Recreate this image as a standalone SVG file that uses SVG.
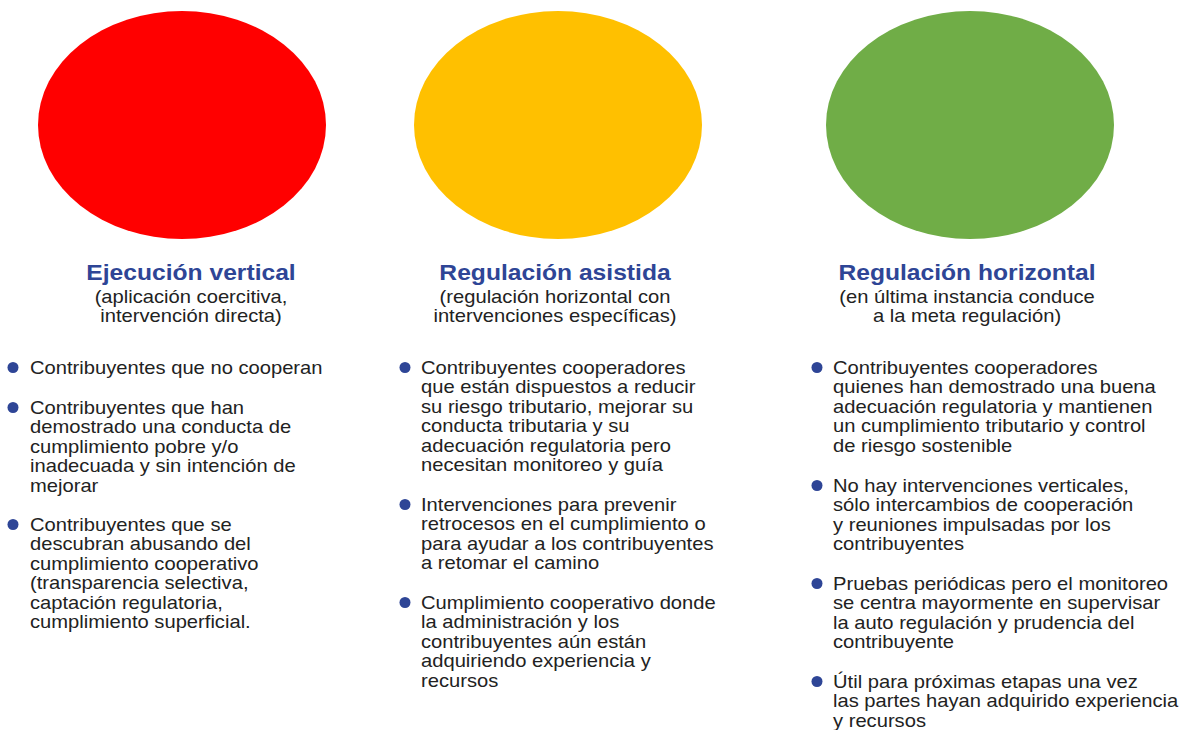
<svg xmlns="http://www.w3.org/2000/svg" width="1180" height="730" viewBox="0 0 1180 730">
<style>
.title{font-family:"Liberation Sans",Arial,sans-serif;font-weight:bold;font-size:22px;fill:#2E4596;text-anchor:middle}
.sub{font-family:"Liberation Sans",Arial,sans-serif;font-size:18px;fill:#222;text-anchor:middle}
.txt{font-family:"Liberation Sans",Arial,sans-serif;font-size:18px;fill:#222}
.dot{fill:#2E4596}
</style>
<rect width="1180" height="730" fill="#fff"/>
<g id="col1">
<ellipse cx="182" cy="125" rx="144" ry="114" fill="#FF0000"/>
<g transform="translate(191,0) scale(1.12,1)">
<text class="title" x="0" y="280">Ejecución vertical</text>
<text class="sub" x="0" y="303">(aplicación coercitiva,</text>
<text class="sub" x="0" y="322">intervención directa)</text>
</g>
<circle class="dot" cx="13" cy="367.5" r="5.5"/>
<circle class="dot" cx="13" cy="407.5" r="5.5"/>
<circle class="dot" cx="13" cy="524.5" r="5.5"/>
<g transform="translate(30,0) scale(1.12,1)">
<text class="txt" x="0" y="374">Contribuyentes que no cooperan</text>
<text class="txt" x="0" y="414">Contribuyentes que han<tspan x="0" dy="19.4">demostrado una conducta de</tspan><tspan x="0" dy="19.4">cumplimiento pobre y/o</tspan><tspan x="0" dy="19.4">inadecuada y sin intención de</tspan><tspan x="0" dy="19.4">mejorar</tspan></text>
<text class="txt" x="0" y="531">Contribuyentes que se<tspan x="0" dy="19.4">descubran abusando del</tspan><tspan x="0" dy="19.4">cumplimiento cooperativo</tspan><tspan x="0" dy="19.4">(transparencia selectiva,</tspan><tspan x="0" dy="19.4">captación regulatoria,</tspan><tspan x="0" dy="19.4">cumplimiento superficial.</tspan></text>
</g>
</g>
<g id="col2">
<ellipse cx="558" cy="125" rx="144" ry="114" fill="#FFC000"/>
<g transform="translate(555,0) scale(1.12,1)">
<text class="title" x="0" y="280">Regulación asistida</text>
<text class="sub" x="0" y="303">(regulación horizontal con</text>
<text class="sub" x="0" y="322">intervenciones específicas)</text>
</g>
<circle class="dot" cx="405" cy="367.5" r="5.5"/>
<circle class="dot" cx="405" cy="504.5" r="5.5"/>
<circle class="dot" cx="405" cy="602.5" r="5.5"/>
<g transform="translate(421,0) scale(1.12,1)">
<text class="txt" x="0" y="374">Contribuyentes cooperadores<tspan x="0" dy="19.4">que están dispuestos a reducir</tspan><tspan x="0" dy="19.4">su riesgo tributario, mejorar su</tspan><tspan x="0" dy="19.4">conducta tributaria y su</tspan><tspan x="0" dy="19.4">adecuación regulatoria pero</tspan><tspan x="0" dy="19.4">necesitan monitoreo y guía</tspan></text>
<text class="txt" x="0" y="511">Intervenciones para prevenir<tspan x="0" dy="19.4">retrocesos en el cumplimiento o</tspan><tspan x="0" dy="19.4">para ayudar a los contribuyentes</tspan><tspan x="0" dy="19.4">a retomar el camino</tspan></text>
<text class="txt" x="0" y="609">Cumplimiento cooperativo donde<tspan x="0" dy="19.4">la administración y los</tspan><tspan x="0" dy="19.4">contribuyentes aún están</tspan><tspan x="0" dy="19.4">adquiriendo experiencia y</tspan><tspan x="0" dy="19.4">recursos</tspan></text>
</g>
</g>
<g id="col3">
<ellipse cx="970" cy="125" rx="144" ry="114" fill="#70AD47"/>
<g transform="translate(967,0) scale(1.12,1)">
<text class="title" x="0" y="280">Regulación horizontal</text>
<text class="sub" x="0" y="303">(en última instancia conduce</text>
<text class="sub" x="0" y="322">a la meta regulación)</text>
</g>
<circle class="dot" cx="817" cy="367.5" r="5.5"/>
<circle class="dot" cx="817" cy="485.5" r="5.5"/>
<circle class="dot" cx="817" cy="583.5" r="5.5"/>
<circle class="dot" cx="817" cy="681.5" r="5.5"/>
<g transform="translate(833,0) scale(1.12,1)">
<text class="txt" x="0" y="374">Contribuyentes cooperadores<tspan x="0" dy="19.4">quienes han demostrado una buena</tspan><tspan x="0" dy="19.4">adecuación regulatoria y mantienen</tspan><tspan x="0" dy="19.4">un cumplimiento tributario y control</tspan><tspan x="0" dy="19.4">de riesgo sostenible</tspan></text>
<text class="txt" x="0" y="492">No hay intervenciones verticales,<tspan x="0" dy="19.4">sólo intercambios de cooperación</tspan><tspan x="0" dy="19.4">y reuniones impulsadas por los</tspan><tspan x="0" dy="19.4">contribuyentes</tspan></text>
<text class="txt" x="0" y="590">Pruebas periódicas pero el monitoreo<tspan x="0" dy="19.4">se centra mayormente en supervisar</tspan><tspan x="0" dy="19.4">la auto regulación y prudencia del</tspan><tspan x="0" dy="19.4">contribuyente</tspan></text>
<text class="txt" x="0" y="688">Útil para próximas etapas una vez<tspan x="0" dy="19.4">las partes hayan adquirido experiencia</tspan><tspan x="0" dy="19.4">y recursos</tspan></text>
</g>
</g>
</svg>
